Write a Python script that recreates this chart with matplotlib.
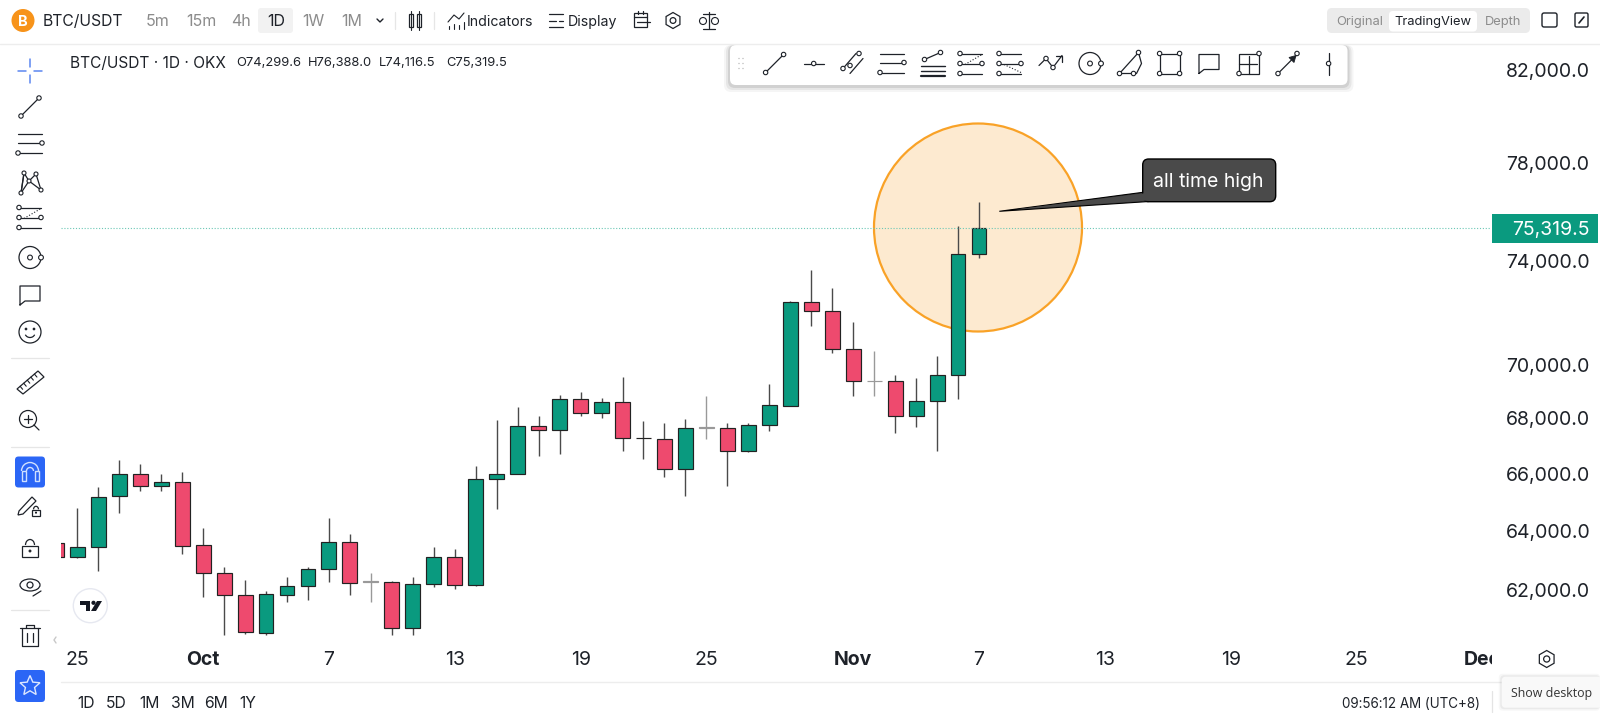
import numpy as np
import matplotlib
matplotlib.use("Agg")
import matplotlib.pyplot as plt
from matplotlib.patches import Circle, FancyBboxPatch, Polygon, Rectangle, Ellipse, Arc

plt.rcParams['font.family'] = ['Inter', 'DejaVu Sans']

# ---- data (day index 0 = 25 Sep) ----
days = list(range(-1, 44))
opens = [63587,63121,63460,65213,65993,65590,65721,63518,62583,61834,60597,61854,62136,62708,63632,62300,62281,60760,62224,63121,
         62190,65837,65993,67720,67575,68726,68215,68604,67290,67269,66192,67680,67669,66831,67756,68459,72394,72037,70599,69390,69376,
         68095,68641,69603,74299.6]
highs = [63590,64796,65554,66501,66359,66004,66064,64106,62775,62348,61978,62459,62775,64451,63908,62573,62314,62459,63470,63391,
         66288,67949,68411,68095,68853,68976,68741,69537,67913,67829,67974,68827,67851,67851,69264,72433,73656,72957,71626,70512,69614,
         69489,70325,75420,76388]
lows = [63120,63087,62660,64634,65412,65402,63222,61787,60531,60564,60531,61620,61676,62291,61844,61620,60531,60531,62103,62046,
        62157,64772,65986,66654,66725,68084,68022,66831,66547,65908,65228,67269,65590,66785,67537,68459,71461,70437,68838,68815,67476,
        67683,66820,68715,74116.5]
closes = [63121,63460,65188,65993,65590,65721,63504,62583,61834,60613,61868,62136,62708,63632,62247,62260,60760,62224,63121,62190,
          65837,65993,67720,67575,68726,68215,68604,67305,67283,66192,67669,67669,66831,67756,68484,72394,72049,70599,69376,69376,68095,
          68630,69603,74276,75319.5]
pale_dojis = [14, 30, 38]
y_ticks = [82000, 78000, 74000, 70000, 68000, 66000, 64000, 62000]
y_labels = ["82,000.0", "78,000.0", "74,000.0", "70,000.0", "68,000.0", "66,000.0", "64,000.0", "62,000.0"]
x_ticks = [0, 6, 12, 18, 24, 30, 37, 43, 49, 55, 61, 67]
x_labels = ["25", "Oct", "7", "13", "19", "25", "Nov", "7", "13", "19", "25", "Dec"]
bold_labels = ["Oct", "Nov", "Dec"]
last_price = 75319.5
timeframes = ["5m", "15m", "4h", "1D", "1W", "1M"]
ranges = ["1D", "5D", "1M", "3M", "6M", "1Y"]

GREEN = "#0A9A7F"; RED = "#EE4A6E"; INK = "#1E2229"; GREY = "#8C8C8C"; BLUE = "#2B66F6"

W, H = 1600, 715
fig = plt.figure(figsize=(W/100, H/100), dpi=100, facecolor="white")

def full_axes(z):
    a = fig.add_axes([0, 0, 1, 1], zorder=z)
    a.set_xlim(0, W); a.set_ylim(H, 0); a.axis("off"); a.patch.set_alpha(0)
    return a

under = full_axes(0)
ax = fig.add_axes([61/W, 1-640/H, (1491-61)/W, (640-46)/H], zorder=1)
top = full_axes(2)

# highlight circle under the candles
under.add_patch(Circle((978, 227.5), 104, fc="#FDEAD0", ec="#F9A227", lw=1.6))

# ---- candles ----
ax.patch.set_alpha(0)
ax.set_yscale("log")
ax.set_xlim((61-77.3)/20.97, (1491-77.3)/20.97)
ax.set_ylim(60364, 83076)
wick_colors = ["#999999" if d in pale_dojis else "#4A4A4A" for d in days]
ax.vlines(days, lows, highs, color=wick_colors, lw=1.0, zorder=2)
bottoms = [min(o, c) for o, c in zip(opens, closes)]
heights = [abs(o-c) for o, c in zip(opens, closes)]
colors = [GREEN if c >= o else RED for o, c in zip(opens, closes)]
edges = ["#999999" if d in pale_dojis else "#222222" for d in days]
ax.bar(days, heights, bottom=bottoms, width=0.71, color=colors, edgecolor=edges, lw=0.85, zorder=3)
ax.axhline(last_price, color="#6CC8B6", lw=0.8, ls=(0, (1, 1.6)), zorder=4)
for s in ax.spines.values():
    s.set_visible(False)
ax.minorticks_off()
ax.yaxis.tick_right()
ax.set_yticks(y_ticks, y_labels)
ax.set_xticks(x_ticks, x_labels)
ax.tick_params(axis="both", which="both", length=0)
ax.tick_params(axis="y", pad=11, labelsize=14, labelcolor=INK)
ax.tick_params(axis="x", pad=8, labelsize=14, labelcolor=INK)
ax.yaxis.set_minor_locator(matplotlib.ticker.NullLocator())
ax.yaxis.set_minor_formatter(matplotlib.ticker.NullFormatter())
for t in ax.get_xticklabels():
    if t.get_text() in bold_labels:
        t.set_fontweight("bold")

# ---- drawing helpers (UI chrome, in pixels) ----
def line(pts, c=INK, lw=0.9, ls="-", a=top):
    xs, ys = zip(*pts)
    a.plot(xs, ys, color=c, lw=lw, ls=ls, solid_capstyle="round")

def node(x, y, r=2.2, c=INK, fc="white", lw=0.8):
    top.add_patch(Circle((x, y), r, fc=fc, ec=c, lw=lw, zorder=5))

def box(x0, y0, x1, y1, r=3, fc="white", ec="none", lw=0.8, alpha=None, z=1, a=top):
    a.add_patch(FancyBboxPatch((x0+r, y0+r), x1-x0-2*r, y1-y0-2*r, boxstyle=f"round,pad={r},rounding_size={r}",
                               fc=fc, ec=ec, lw=lw, alpha=alpha, zorder=z))

def text(x, y, s, size=10, c=INK, ha="center", **kw):
    top.text(x, y, s, fontsize=size, color=c, ha=ha, va="center_baseline", zorder=8, **kw)

def trend(cx, cy, c=INK):
    line([(cx-9, cy+9), (cx+9, cy-9)], c); node(cx-9, cy+9); node(cx+9, cy-9)

def hray(cx, cy):
    line([(cx-10, cy), (cx+10, cy)]); node(cx, cy)

def channel(cx, cy):
    line([(cx-10, cy+5), (cx+3, cy-10)]); line([(cx-3, cy+10), (cx+10, cy-5)])
    node(cx-10, cy+5); node(cx+6, cy-10); node(cx-3, cy+2)

def three_lines(cx, cy):
    for d in (-10, -1, 9):
        line([(cx-12, cy+d), (cx+12, cy+d)])
    node(cx+12, cy-1); node(cx-12, cy+9)

def fan_lines(cx, cy):
    for d in (2, 7, 12):
        line([(cx-12, cy+d), (cx+12, cy+d)], lw=1.0 + (d == 12)*0.6)
    line([(cx-8, cy-4), (cx+8, cy-11)]); node(cx-8, cy-4); node(cx+8, cy-11)

def fib(cx, cy, flip=False):
    for d in (-10, 0, 10):
        line([(cx-11, cy+d), (cx+11, cy+d)])
    node(cx-11, cy-10); node(cx-11, cy); node(cx-11, cy+10); node(cx+11, cy)
    p = [(cx-6, cy+1), (cx+11, cy-9)] if not flip else [(cx-6, cy+1), (cx+11, cy+9)]
    line(p, lw=0.8, ls=":")

def zigzag(cx, cy):
    line([(cx-12, cy+2), (cx-5, cy-5), (cx+2, cy+4), (cx+11, cy-8)])
    line([(cx+5, cy-8), (cx+11, cy-8), (cx+11, cy-2)])
    node(cx-5, cy-5); node(cx+2, cy+4)

def ring(cx, cy):
    top.add_patch(Circle((cx, cy), 11, fc="none", ec=INK, lw=0.9))
    node(cx, cy, 2.4); node(cx+11, cy, 2.4)

def arcshape(cx, cy):
    line([(cx-11, cy+10), (cx+8, cy-11), (cx+11, cy), (cx+6, cy+10), (cx-11, cy+10)])
    node(cx-11, cy+10); node(cx+8, cy-11); node(cx+3, cy+10)

def rect(cx, cy):
    top.add_patch(Rectangle((cx-10, cy-10), 20, 20, fc="none", ec=INK, lw=0.9))
    for sx in (-10, 10):
        for sy in (-10, 10):
            node(cx+sx, cy+sy)

def bubble(cx, cy):
    line([(cx-10, cy+10), (cx-10, cy-9), (cx+10, cy-9), (cx+10, cy+6), (cx-5, cy+6), (cx-10, cy+10)])

def pos_box(cx, cy):
    top.add_patch(Rectangle((cx-10, cy-10), 20, 20, fc="none", ec=INK, lw=0.9))
    line([(cx-10, cy), (cx+8, cy)]); line([(cx, cy+10), (cx, cy-8)])
    node(cx+10, cy-10); node(cx-10, cy+10)

def arrow(cx, cy):
    line([(cx-10, cy+10), (cx+8, cy-8)])
    top.add_patch(Polygon([(cx+8, cy-8), (cx+1, cy-6), (cx+6, cy-1)], fc=INK, ec=INK, lw=0.6, zorder=5))
    node(cx-10, cy+10); node(cx+9, cy-10)

def vray(cx, cy):
    line([(cx, cy-11), (cx, cy+11)]); node(cx, cy)

def cross(cx, cy):
    c = "#5B86F0"
    for p in ([(cx-12, cy), (cx-4, cy)], [(cx+4, cy), (cx+12, cy)], [(cx, cy-12), (cx, cy-4)], [(cx, cy+4), (cx, cy+12)]):
        line(p, c, lw=1.1)

def web(cx, cy):
    pts = [(cx-9, cy+10), (cx-6, cy-10), (cx-1, cy-2), (cx+6, cy-9), (cx+11, cy+7)]
    line(pts); line([(cx-9, cy+10), (cx-1, cy-2), (cx+11, cy+7)]); line([(cx-6, cy-10), (cx-9, cy+10)])
    for p in pts:
        node(*p, r=2)

def smile(cx, cy):
    top.add_patch(Circle((cx, cy), 11, fc="none", ec=INK, lw=0.9))
    node(cx-4, cy-3, .8, fc=INK); node(cx+4, cy-3, .8, fc=INK)
    top.add_patch(Arc((cx, cy+1), 10, 9, theta1=20, theta2=160, ec=INK, lw=0.9))

def ruler(cx, cy):
    top.add_patch(Polygon([(cx-13, cy+7), (cx+8, cy-11), (cx+14, cy-5), (cx-7, cy+12)], fc="none", ec=INK, lw=0.9))
    for k in np.arange(0.15, 0.95, 0.17):
        x, y = cx-13+21*k, cy+7-18*k
        line([(x, y), (x+2.5, y+3)], lw=0.8)

def zoom_icon(cx, cy):
    top.add_patch(Circle((cx-2, cy-1), 8.5, fc="none", ec=INK, lw=0.9))
    line([(cx-6, cy-1), (cx+2, cy-1)]); line([(cx-2, cy-5), (cx-2, cy+3)]); line([(cx+4, cy+5), (cx+9, cy+10)])

def magnet(cx, cy):
    box(cx-15, cy-15.5, cx+15, cy+15.5, r=3.5, fc=BLUE)
    top.add_patch(Arc((cx, cy-1), 17, 17, theta1=180, theta2=360, ec="#CFE0FF", lw=1.0, zorder=6))
    top.add_patch(Arc((cx, cy-1), 7, 7, theta1=180, theta2=360, ec="#CFE0FF", lw=1.0, zorder=6))
    for sgn in (-1, 1):
        top.add_patch(Rectangle((cx+sgn*6.5-2, cy-1), 4, 10, fc="none", ec="#CFE0FF", lw=1.0, zorder=6))

def lock(cx, cy, s=1.0):
    top.add_patch(Rectangle((cx-8*s, cy-2*s), 16*s, 11*s, fc="none", ec=INK, lw=0.9))
    top.add_patch(Arc((cx, cy-3*s), 9*s, 11*s, theta1=180, theta2=360, ec=INK, lw=0.9))
    node(cx, cy+3*s, .9*s, fc=INK)

def pencil(cx, cy):
    top.add_patch(Polygon([(cx-11, cy+6), (cx+2, cy-8), (cx+6, cy-4), (cx-7, cy+9), (cx-12, cy+10)], fc="none", ec=INK, lw=0.9))
    lock(cx+6, cy+6, 0.55)

def eye(cx, cy):
    top.add_patch(Ellipse((cx, cy-2), 20, 12, fc="none", ec=INK, lw=0.9))
    top.add_patch(Circle((cx, cy-2), 3, fc="none", ec=INK, lw=0.9))
    line([(cx+3, cy+9), (cx+11, cy+4)], lw=0.9)

def trash(cx, cy):
    line([(cx-10, cy-8), (cx+10, cy-8)]); line([(cx-4, cy-8), (cx-4, cy-11), (cx+4, cy-11), (cx+4, cy-8)])
    line([(cx-8, cy-8), (cx-8, cy+10), (cx+8, cy+10), (cx+8, cy-8)])
    line([(cx-3, cy-3), (cx-3, cy+6)]); line([(cx+3, cy-3), (cx+3, cy+6)])

def gear(cx, cy, r=8, c=INK):
    ang = np.deg2rad(np.arange(30, 390, 60))
    top.add_patch(Polygon(np.c_[cx+r*np.cos(ang), cy+r*np.sin(ang)], fc="none", ec=c, lw=0.9, zorder=6))
    top.add_patch(Circle((cx, cy), r*0.36, fc="none", ec=c, lw=0.9, zorder=6))

# ---- top bar ----
line([(0, 44), (W, 44)], "#EDEDED", 1.0)
top.add_patch(Circle((23, 20.5), 11.5, fc="#F7931A", ec="none"))
text(23, 20.5, "B", 10.5, "white", fontweight="bold")
text(43, 20.5, "BTC/USDT", 11.3, ha="left")
box(258, 8, 293, 33, r=3, fc="#F2F2F2")
for xc, lab in zip([158, 201, 241, 276, 313, 352], timeframes):
    text(xc, 20.5, lab, 11.5, INK if lab == "1D" else GREY)
line([(377, 19), (380, 22), (383, 19)], lw=1.0)
line([(395, 12), (395, 29)], "#E6E6E6"); line([(434, 12), (434, 29)], "#E6E6E6")
for xc, w0 in ((411, 0), (419, 0)):
    top.add_patch(Rectangle((xc-2.2, 14), 4.4, 13, fc="white", ec=INK, lw=0.9))
    line([(xc, 11), (xc, 30)], lw=0.8)
line([(448, 22), (454, 15), (459, 19), (464, 13)], lw=0.8)
for xc, yc in ((449, 26), (454, 24), (459, 25), (464, 22)):
    line([(xc, yc), (xc, 29)], lw=0.8)
text(467, 20.5, "Indicators", 10.2, ha="left")
line([(549, 14), (563, 14)]); line([(549, 21), (556, 21)]); line([(559, 21), (563, 21)]); line([(549, 27), (563, 27)])
text(568, 20.5, "Display", 10.2, ha="left")
top.add_patch(Rectangle((634, 13), 13, 14, fc="none", ec=INK, lw=0.9))
line([(634, 17), (647, 17)]); line([(638, 11), (638, 14)]); line([(643, 11), (643, 14)]); line([(637, 22), (650, 22)])
gear(673, 20.5)
line([(709, 12), (709, 28)]); line([(703, 14), (715, 14)]); line([(703, 29), (715, 29)])
top.add_patch(Ellipse((703, 21), 7, 7, fc="none", ec=INK, lw=0.8)); top.add_patch(Ellipse((715, 21), 7, 7, fc="none", ec=INK, lw=0.8))
box(1327, 8, 1530, 33, r=5, fc="#EBEBEB")
box(1389, 11, 1477, 31.5, r=4, fc="white", z=2)
text(1360, 20.5, "Original", 9.3, GREY)
text(1433, 20.5, "TradingView", 9.3, INK)
text(1503, 20.5, "Depth", 9.3, GREY)
box(1542, 13, 1557, 27, r=2, fc="none", ec=INK, lw=1.0)
box(1575, 13, 1588, 27, r=1.5, fc="none", ec=INK, lw=1.0)
line([(1579, 23), (1584, 17)], lw=1.2)

# ---- legend line ----
text(70.5, 61.5, "BTC/USDT · 1D · OKX", 11.1, ha="left")
for xl, s in zip([236, 308, 378.5, 446], ["O74,299.6", "H76,388.0", "L74,116.5", "C75,319.5"]):
    text(xl, 61.5, s, 9.3, ha="left")

# ---- floating drawing toolbar ----
for g, al in ((6, .04), (4, .06), (2, .09)):
    box(730-g, 45, 1347.5+g, 85+g+1, r=7, fc="black", alpha=al, z=1)
box(730, 45, 1347.5, 85, r=6, fc="white", z=1)
for dx in (-2, 2):
    for dy in (-5, 0, 5):
        node(741+dx, 63.5+dy, .7, c="#BBBBBB", fc="#BBBBBB", lw=0)
cy = 63.5
trend(774.6, cy); hray(813.7, cy); channel(853, cy); three_lines(892, cy); fan_lines(932.5, cy)
fib(971, cy); fib(1010, cy, True); zigzag(1051, cy); ring(1090, cy); arcshape(1130.5, cy)
rect(1169.6, cy); bubble(1209, cy); pos_box(1249, cy); arrow(1288, cy); vray(1328.6, cy)

# ---- left toolbar ----
cross(30, 70.5); trend(30, 107); three_lines(30, 144); web(30, 183); fib(30, 217.5); ring(30, 257.5)
bubble(30, 295); smile(30, 332)
line([(11, 358), (49, 358)], "#E6E6E6")
ruler(30, 382); zoom_icon(30, 420)
line([(11, 447), (49, 447)], "#E6E6E6")
magnet(30, 472); pencil(30, 505); lock(30, 548); eye(30, 587)
line([(11, 610), (49, 610)], "#E6E6E6")
trash(30, 636)
line([(56, 637), (54, 640), (56, 643)], "#C8C8C8", 1.0)
box(15, 670, 45, 702, r=3.5, fc=BLUE)
ang = np.deg2rad(np.arange(-90, 270, 36))
rad = np.where(np.arange(10) % 2 == 0, 10.5, 4.8)
top.add_patch(Polygon(np.c_[30+rad*np.cos(ang), 686+rad*np.sin(ang)], fc="none", ec="#DCE7FF", lw=1.0, zorder=6))

# ---- TradingView badge ----
top.add_patch(Circle((90.3, 605.7), 17, fc="white", ec="#E6E8F0", lw=1.0))
top.add_patch(Polygon([(80, 601), (90, 601), (90, 611), (86, 611), (86, 605), (80, 605)], fc="#131722", ec="none", zorder=6))
node(93.5, 602.8, 2.1, c="#131722", fc="#131722", lw=0)
top.add_patch(Polygon([(97, 601), (102, 601), (96, 611), (91, 611)], fc="#131722", ec="none", zorder=6))

# ---- price tag ----
top.add_patch(Rectangle((1491.7, 214), 106.3, 29.3, fc=GREEN, ec="none", zorder=4))
text(1589.5, 228.3, "75,319.5", 14, "white", ha="right")

# ---- callout ----
top.add_patch(Polygon([(999.3, 211.3), (1143, 192.3), (1149, 201.5)], fc="#3A3A3A", ec="black", lw=0.8, zorder=3))
box(1142.7, 159, 1275.7, 201.7, r=6, fc="#4A4A4A", ec="black", lw=1.0, z=4)
top.add_patch(Polygon([(1015, 209.5), (1144, 193.3), (1149, 200.5)], fc="#4A4A4A", ec="none", zorder=5))
text(1208.5, 180, "all time high", 14, "white", family="Inter")

# ---- bottom bar ----
top.add_patch(Rectangle((1492, 640), 108, 41, fc="white", ec="none", zorder=3))
line([(61, 682), (W, 682)], "#EDEDED", 1.0)
gear(1546.7, 659, 8.5)
for xc, lab in zip([85.7, 116, 149, 182.6, 216, 248], ranges):
    text(xc, 702.5, lab, 11.3)
text(1480.5, 702, "09:56:12 AM (UTC+8)", 9.7, ha="right")
line([(1491.7, 691), (1491.7, 712)], "#E4E4E4")
for g, al in ((3, .03), (1.5, .05)):
    box(1501.7-g, 676.7-g, 1600, 707.7+g, r=4, fc="black", alpha=al, z=4)
box(1501.7, 676.7, 1602, 707.7, r=4, fc="#F9F9F9", z=5)
text(1511, 692, "Show desktop", 8.9, "#333333", ha="left", family="Open Sans")

fig.savefig("out.png", dpi=100, facecolor="white")
